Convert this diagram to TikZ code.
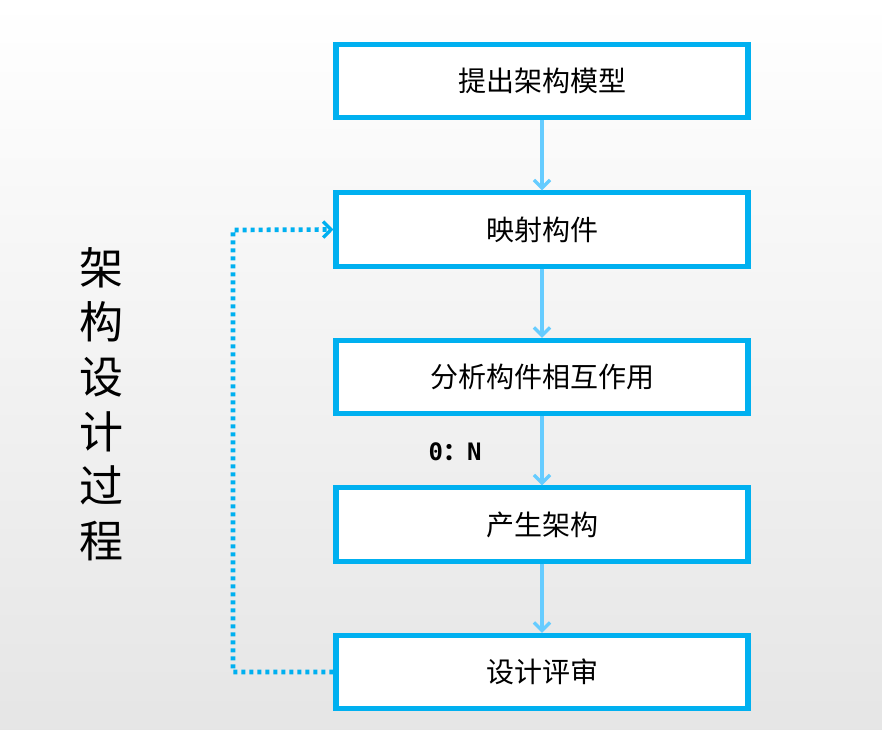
\documentclass[tikz,border=0pt]{standalone}
\usepackage{fontspec}
\newfontfamily\cjk{Noto Sans CJK SC}
\newfontfamily\mono{DejaVu Sans Mono}
\usetikzlibrary{arrows.meta}
\definecolor{bord}{HTML}{00B0F0}
\definecolor{arr}{HTML}{66CCFF}
\begin{document}
\begin{tikzpicture}[x=0.75pt,y=-0.75pt,
  box/.style={draw=bord,line width=3.8pt,fill=white,minimum width=309pt,minimum height=55pt,inner sep=0pt,font=\cjk\fontsize{21}{24}\selectfont},
  flow/.style={draw=arr,line width=3pt,-{Straight Barb[length=6pt,width=12pt,line width=2.5pt]}},
  fb/.style={draw=bord,line width=3.5pt,-{Straight Barb[length=6pt,width=12pt,line width=2.5pt]}}]
\shade[top color=white,bottom color=black!10] (0,0) rectangle (882,729);
\useasboundingbox (0,0) rectangle (882,729);
\node[box] (b1) at (542,81) {提出架构模型};
\node[box] (b2) at (542,229.5) {映射构件};
\node[box] (b3) at (542,377) {分析构件相互作用};
\node[box] (b4) at (542,524.5) {产生架构};
\node[box] (b5) at (542,672) {设计评审};
\draw[flow] (b1) -- (b2);
\draw[flow] (b2) -- (b3);
\draw[flow] (b3) -- (b4);
\draw[flow] (b4) -- (b5);
\node[font=\mono\bfseries\fontsize{18}{20}\selectfont,inner sep=0pt] (on) at (455,452) {0{\cjk\bfseries ：}N};
\coordinate (c1) at (233,672);
\coordinate (c2) at (233,230);
\draw[fb,dash pattern=on 3pt off 3pt] (b5.west) -- (c1) -- (c2) -- (b2.west);
\node[font=\cjk\fontsize{33}{41}\selectfont,align=center] (t) at (101,404) {架\\构\\设\\计\\过\\程};
\end{tikzpicture}
\end{document}
